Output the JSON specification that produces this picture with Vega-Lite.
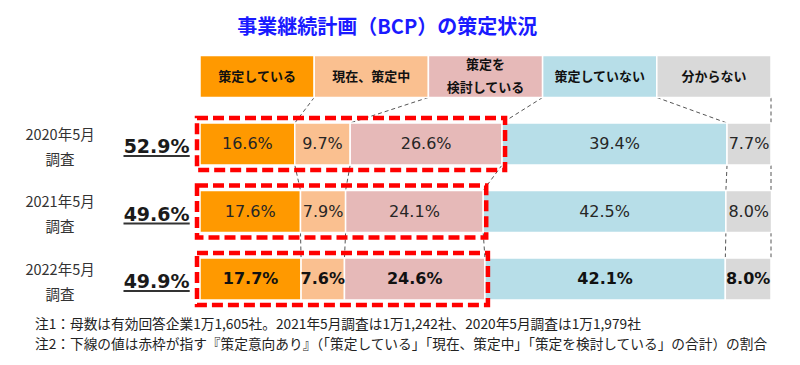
{
  "$schema": "https://vega.github.io/schema/vega-lite/v6.json",
  "width": 800,
  "height": 365,
  "autosize": "none",
  "padding": 0,
  "background": "white",
  "config": {"view": {"stroke": null}, "font": "Noto Sans CJK JP"},
  "datasets": {
    "bars": [
      {"row": "header", "cat": "策定している", "k": 1, "v": 20, "name": "策定している"},
      {"row": "header", "cat": "現在、策定中", "k": 2, "v": 20, "name": "現在、策定中"},
      {"row": "header", "cat": "策定を検討している", "k": 3, "v": 20, "name": "策定を\n検討している"},
      {"row": "header", "cat": "策定していない", "k": 4, "v": 20, "name": "策定していない"},
      {"row": "header", "cat": "分からない", "k": 5, "v": 20, "name": "分からない"},
      {"row": "2020", "cat": "策定している", "k": 1, "v": 16.6},
      {"row": "2020", "cat": "現在、策定中", "k": 2, "v": 9.7},
      {"row": "2020", "cat": "策定を検討している", "k": 3, "v": 26.6},
      {"row": "2020", "cat": "策定していない", "k": 4, "v": 39.4},
      {"row": "2020", "cat": "分からない", "k": 5, "v": 7.7},
      {"row": "2021", "cat": "策定している", "k": 1, "v": 17.6},
      {"row": "2021", "cat": "現在、策定中", "k": 2, "v": 7.9},
      {"row": "2021", "cat": "策定を検討している", "k": 3, "v": 24.1},
      {"row": "2021", "cat": "策定していない", "k": 4, "v": 42.5},
      {"row": "2021", "cat": "分からない", "k": 5, "v": 8.0},
      {"row": "2022", "cat": "策定している", "k": 1, "v": 17.7},
      {"row": "2022", "cat": "現在、策定中", "k": 2, "v": 7.6},
      {"row": "2022", "cat": "策定を検討している", "k": 3, "v": 24.6},
      {"row": "2022", "cat": "策定していない", "k": 4, "v": 42.1},
      {"row": "2022", "cat": "分からない", "k": 5, "v": 8.0}
    ],
    "summary": [
      {"row": "2020", "label": "2020年5月\n調査", "total": 52.9, "pct": "52.9%"},
      {"row": "2021", "label": "2021年5月\n調査", "total": 49.6, "pct": "49.6%"},
      {"row": "2022", "label": "2022年5月\n調査", "total": 49.9, "pct": "49.9%"}
    ],
    "links": [
      {"rf": "header", "rt": "2020", "xf": 20, "xt": 16.6},
      {"rf": "header", "rt": "2020", "xf": 40, "xt": 26.3},
      {"rf": "header", "rt": "2020", "xf": 60, "xt": 52.9},
      {"rf": "header", "rt": "2020", "xf": 80, "xt": 92.3},
      {"rf": "header", "rt": "2020", "xf": 100, "xt": 100},
      {"rf": "2020", "rt": "2021", "xf": 16.6, "xt": 17.6},
      {"rf": "2020", "rt": "2021", "xf": 26.3, "xt": 25.5},
      {"rf": "2020", "rt": "2021", "xf": 52.9, "xt": 49.6},
      {"rf": "2020", "rt": "2021", "xf": 92.3, "xt": 92.1},
      {"rf": "2020", "rt": "2021", "xf": 100, "xt": 100},
      {"rf": "2021", "rt": "2022", "xf": 17.6, "xt": 17.7},
      {"rf": "2021", "rt": "2022", "xf": 25.5, "xt": 25.3},
      {"rf": "2021", "rt": "2022", "xf": 49.6, "xt": 49.9},
      {"rf": "2021", "rt": "2022", "xf": 92.1, "xt": 92.0},
      {"rf": "2021", "rt": "2022", "xf": 100, "xt": 100}
    ],
    "notes": [
      {"t": "注1：母数は有効回答企業1万1,605社。2021年5月調査は1万1,242社、2020年5月調査は1万1,979社\n注2：下線の値は赤枠が指す『策定意向あり』（「策定している」「現在、策定中」「策定を検討している」の合計）の割合"}
    ],
    "title": [{"t": "事業継続計画（BCP）の策定状況"}]
  },
  "encoding": {
    "y": {"field": "row", "type": "nominal", "scale": {"domain": ["header", "2020", "2021", "2022"], "range": [42.75, 312.75], "paddingInner": 0.378, "paddingOuter": 0.189}, "axis": null}
  },
  "layer": [
    {
      "data": {"name": "links"},
      "mark": {"type": "rule", "color": "#555555", "strokeWidth": 1, "strokeDash": [4, 3]},
      "encoding": {
        "x": {"field": "xf", "type": "quantitative", "scale": {"domain": [0, 100], "range": [200, 771]}, "axis": null},
        "x2": {"field": "xt"},
        "y": {"field": "rf", "type": "nominal", "bandPosition": 1, "axis": null},
        "y2": {"field": "rt", "bandPosition": 0}
      }
    },
    {
      "data": {"name": "bars"},
      "mark": {"type": "bar", "stroke": "white", "strokeWidth": 1.5},
      "encoding": {
        "x": {"field": "v", "type": "quantitative", "stack": "zero", "scale": {"domain": [0, 100], "range": [200, 771]}, "axis": null},
        "color": {"field": "cat", "type": "nominal", "legend": null, "scale": {"domain": ["策定している", "現在、策定中", "策定を検討している", "策定していない", "分からない"], "range": ["#FF9900", "#FAC090", "#E6B9B8", "#B7DEE8", "#D9D9D9"]}},
        "order": {"field": "k", "type": "quantitative"}
      }
    },
    {
      "data": {"name": "summary"},
      "mark": {"type": "rect", "filled": false, "stroke": "#FF0000", "strokeWidth": 4.5, "strokeDash": [11, 5], "height": {"band": 1.24}, "x2Offset": -3, "xOffset": 3},
      "encoding": {
        "x": {"field": "total", "type": "quantitative"},
        "x2": {"datum": 0}
      }
    },
    {
      "data": {"name": "bars"},
      "transform": [{"filter": "datum.row !== 'header'"}, {"calculate": "format(datum.v, '.1f') + '%'", "as": "lbl"}],
      "mark": {"type": "text", "font": "DejaVu Sans", "fontSize": 16, "color": "#262626"},
      "encoding": {
        "x": {"field": "v", "type": "quantitative", "stack": "zero", "bandPosition": 0.5},
        "order": {"field": "k", "type": "quantitative"},
        "text": {"field": "lbl"},
        "opacity": {"condition": {"test": "datum.row === '2022'", "value": 0}, "value": 1}
      }
    },
    {
      "data": {"name": "bars"},
      "transform": [{"filter": "datum.row !== 'header'"}, {"calculate": "format(datum.v, '.1f') + '%'", "as": "lbl"}],
      "mark": {"type": "text", "font": "DejaVu Sans", "fontWeight": "bold", "fontSize": 16, "color": "#111111"},
      "encoding": {
        "x": {"field": "v", "type": "quantitative", "stack": "zero", "bandPosition": 0.5},
        "order": {"field": "k", "type": "quantitative"},
        "text": {"field": "lbl"},
        "opacity": {"condition": {"test": "datum.row === '2022'", "value": 1}, "value": 0}
      }
    },
    {
      "data": {"name": "bars"},
      "transform": [{"filter": "datum.row === 'header'"}],
      "mark": {"type": "text", "fontSize": 13, "fontWeight": "bold", "color": "#111111", "lineBreak": "\n", "lineHeight": 23},
      "encoding": {
        "x": {"field": "v", "type": "quantitative", "stack": "zero", "bandPosition": 0.5},
        "order": {"field": "k", "type": "quantitative"},
        "text": {"field": "name"},
        "opacity": {"condition": {"test": "datum.k === 3", "value": 0}, "value": 1}
      }
    },
    {
      "data": {"name": "bars"},
      "transform": [{"filter": "datum.row === 'header'"}],
      "mark": {"type": "text", "fontSize": 13, "fontWeight": "bold", "color": "#111111", "lineBreak": "\n", "lineHeight": 23, "dy": -11.5},
      "encoding": {
        "x": {"field": "v", "type": "quantitative", "stack": "zero", "bandPosition": 0.5},
        "order": {"field": "k", "type": "quantitative"},
        "text": {"field": "name"},
        "opacity": {"condition": {"test": "datum.k === 3", "value": 1}, "value": 0}
      }
    },
    {
      "data": {"name": "summary"},
      "mark": {"type": "text", "fontSize": 14.5, "color": "#333333", "lineBreak": "\n", "lineHeight": 25, "dy": -8.5},
      "encoding": {
        "x": {"datum": -24.5, "type": "quantitative"},
        "text": {"field": "label"}
      }
    },
    {
      "data": {"name": "summary"},
      "mark": {"type": "text", "font": "DejaVu Sans", "fontWeight": "bold", "fontSize": 19, "color": "#1a1a1a", "dy": 3},
      "encoding": {
        "x": {"datum": -7.6, "type": "quantitative"},
        "text": {"field": "pct"}
      }
    },
    {
      "data": {"name": "summary"},
      "mark": {"type": "rule", "color": "#333333", "strokeWidth": 1.8, "yOffset": 12},
      "encoding": {
        "x": {"datum": -13.4, "type": "quantitative"},
        "x2": {"datum": -1.8}
      }
    },
    {
      "data": {"name": "title"},
      "mark": {"type": "text", "fontSize": 20, "fontWeight": "bold", "color": "#1a1aff", "dy": -49},
      "encoding": {
        "x": {"datum": 32.8, "type": "quantitative"},
        "y": {"datum": "header", "type": "nominal"},
        "text": {"field": "t"}
      }
    },
    {
      "data": {"name": "notes"},
      "mark": {"type": "text", "fontSize": 13.7, "color": "#222222", "align": "left", "lineBreak": "\n", "lineHeight": 20, "dy": 46},
      "encoding": {
        "x": {"datum": -28.9, "type": "quantitative"},
        "y": {"datum": "2022", "type": "nominal"},
        "text": {"field": "t"}
      }
    }
  ]
}
